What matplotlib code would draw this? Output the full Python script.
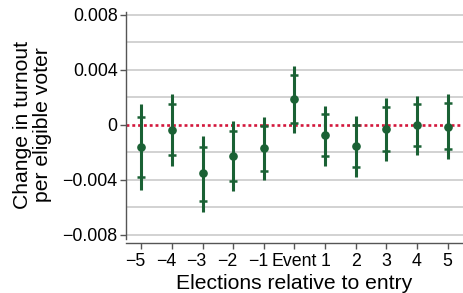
import matplotlib
matplotlib.use("Agg")
import matplotlib.pyplot as plt
from matplotlib.transforms import ScaledTranslation

# event-study estimates (units: turnout per eligible voter)
elections = [-5, -4, -3, -2, -1, 0, 1, 2, 3, 4, 5]
tick_labels = ["\u22125", "\u22124", "\u22123", "\u22122", "\u22121", "Event", "1", "2", "3", "4", "5"]
estimate = [-0.00158, -0.00036, -0.00352, -0.00225, -0.00170, 0.00189, -0.00075, -0.00153, -0.00029, 0.00000, -0.00012]
ci90_lo = [-0.00376, -0.00218, -0.00550, -0.00405, -0.00332, 0.00017, -0.00230, -0.00308, -0.00189, -0.00153, -0.00177]
ci90_hi = [0.00060, 0.00153, -0.00158, -0.00044, -0.00007, 0.00364, 0.00078, 0.00000, 0.00129, 0.00153, 0.00158]
ci95_lo = [-0.00473, -0.00298, -0.00630, -0.00478, -0.00400, -0.00056, -0.00296, -0.00376, -0.00260, -0.00218, -0.00250]
ci95_hi = [0.00153, 0.00225, -0.00078, 0.00031, 0.00060, 0.00431, 0.00138, 0.00065, 0.00194, 0.00213, 0.00223]

GREEN = "#1a6134"
RED = "#d3173c"

plt.rcParams["font.family"] = ["Liberation Sans", "DejaVu Sans"]

fig = plt.figure(figsize=(4.63, 2.93), dpi=100)
ax = fig.add_axes([0.272, 0.17, 0.728, 0.789])

for y in [-0.008, -0.006, -0.004, -0.002, 0.002, 0.004, 0.006, 0.008]:
    ax.axhline(y, color="#d2d2d2", lw=1.4, zorder=0)
ax.axhline(0, color=RED, ls=(0, (1.1, 1.1)), lw=1.9, zorder=1)

ax.vlines(elections, ci95_lo, ci95_hi, color=GREEN, lw=2.2, zorder=2)
ax.plot(elections, ci90_lo, ls="none", marker="_", ms=6, mew=1.8, color=GREEN, zorder=3)
ax.plot(elections, ci90_hi, ls="none", marker="_", ms=6, mew=1.8, color=GREEN, zorder=3)
ax.plot(elections, estimate, ls="none", marker="o", ms=5.2, color=GREEN, zorder=4)

ax.set_xlim(-5.5, 5.5)
ax.set_ylim(-0.0086, 0.0082)
ax.set_yticks([-0.008, -0.004, 0, 0.004, 0.008])
ax.set_yticklabels(["\u22120.008", "\u22120.004", "0", "0.004", "0.008"])
ax.set_xticks(elections)
ax.set_xticklabels(tick_labels)
ax.tick_params(labelsize=12.75, length=4, width=1, color="#555555", pad=2)
ax.tick_params(axis="x", pad=3)

# negative labels: keep the digit under the tick, minus sign hangs left
for lbl in ax.get_xticklabels()[:5]:
    lbl.set_transform(lbl.get_transform() + ScaledTranslation(-0.06, 0, fig.dpi_scale_trans))

for s in ["top", "right"]:
    ax.spines[s].set_visible(False)
for s in ["left", "bottom"]:
    ax.spines[s].set_color("#555555")
    ax.spines[s].set_linewidth(1)
ax.spines["left"].set_bounds(-0.0083, 0.0082)

ax.set_xlabel("Elections relative to entry", fontsize=15.2, va="top")
ax.xaxis.set_label_coords(0.5, -0.135)
ax.set_ylabel("Change in turnout\nper eligible voter", fontsize=15.2, linespacing=1.12)
ax.yaxis.set_label_coords(-0.218, 0.512)

fig.savefig("out.png", dpi=100)
